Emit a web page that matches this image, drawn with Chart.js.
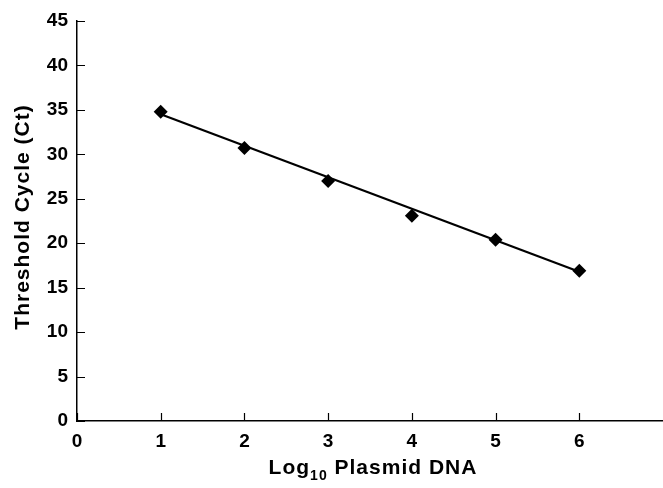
<!DOCTYPE html>
<html>
<head>
<meta charset="utf-8">
<script src="https://cdn.jsdelivr.net/npm/chart.js@4.4.1/dist/chart.umd.min.js"></script>
<style>
  html, body { margin: 0; padding: 0; background: #fff; }
  #wrap { width: 663px; height: 488px; }
</style>
</head>
<body>
<div id="wrap"><canvas id="chartCanvas"></canvas></div>
<script>
// values
const logDNA = [1, 2, 3, 4, 5, 6];
const ctValues = [34.8, 30.7, 27.0, 23.1, 20.4, 16.9];
const fitX = [1, 6];
const fitY = [34.5, 16.8];
const yTicks = [0, 5, 10, 15, 20, 25, 30, 35, 40, 45];
const xTicks = [0, 1, 2, 3, 4, 5, 6];

const FONT = "'Liberation Sans', Arial, sans-serif";

// inward tick marks + axis titles (x title has a subscript)
const decorPlugin = {
  id: 'decor',
  afterDraw(chart) {
    const ctx = chart.ctx;
    const xs = chart.scales.x, ys = chart.scales.y;
    const area = chart.chartArea;
    ctx.save();
    ctx.strokeStyle = '#000';
    ctx.lineWidth = 1.2;
    ctx.beginPath();
    yTicks.forEach(v => {
      const py = Math.round(ys.getPixelForValue(v)) + 0.5;
      ctx.moveTo(area.left, py);
      ctx.lineTo(area.left + 8, py);
    });
    xTicks.forEach(v => {
      const px = Math.round(xs.getPixelForValue(v)) + 0.5;
      ctx.moveTo(px, area.bottom);
      ctx.lineTo(px, area.bottom - 8);
    });
    ctx.stroke();

    ctx.fillStyle = '#000';
    ctx.letterSpacing = '1px';

    // y title
    ctx.font = 'bold 21px ' + FONT;
    ctx.textAlign = 'center';
    ctx.textBaseline = 'middle';
    ctx.translate(23, 217);
    ctx.rotate(-Math.PI / 2);
    ctx.fillText('Threshold Cycle (Ct)', 0, 0);
    ctx.setTransform(1, 0, 0, 1, 0, 0);

    // x title: Log10 Plasmid DNA
    const big = 'bold 21px ' + FONT, small = 'bold 14px ' + FONT;
    ctx.textAlign = 'left';
    ctx.textBaseline = 'alphabetic';
    ctx.font = big;
    const w1 = ctx.measureText('Log').width;
    const w3 = ctx.measureText(' Plasmid DNA').width;
    ctx.font = small;
    const w2 = ctx.measureText('10').width;
    const total = w1 + w2 + w3;
    let x = 373 - total / 2;
    const base = 474;
    ctx.font = big;
    ctx.fillText('Log', x, base);
    x += w1;
    ctx.font = small;
    ctx.fillText('10', x, base + 6);
    x += w2;
    ctx.font = big;
    ctx.fillText(' Plasmid DNA', x, base);
    ctx.restore();
  }
};

new Chart(document.getElementById('chartCanvas').getContext('2d'), {
  type: 'scatter',
  data: {
    datasets: [
      {
        label: 'Fit',
        type: 'line',
        data: fitX.map((x, i) => ({ x: x, y: fitY[i] })),
        borderColor: '#000',
        borderWidth: 2.2,
        pointRadius: 0,
        fill: false,
        order: 2
      },
      {
        label: 'Ct',
        data: logDNA.map((x, i) => ({ x: x, y: ctValues[i] })),
        pointStyle: 'rectRot',
        pointRadius: 7,
        backgroundColor: '#000',
        borderColor: '#000',
        borderWidth: 0,
        showLine: false,
        order: 1
      }
    ]
  },
  options: {
    responsive: true,
    maintainAspectRatio: false,
    animation: false,
    layout: { autoPadding: false, padding: { top: 21, right: 0, left: 0, bottom: 0 } },
    plugins: {
      legend: { display: false },
      tooltip: { enabled: false }
    },
    scales: {
      x: {
        type: 'linear',
        min: 0,
        max: 7,
        afterFit: s => { s.height = 67; s.paddingLeft = 0; s.paddingRight = 0; },
        grid: { display: false, drawTicks: false },
        border: { display: true, color: '#000', width: 1.5 },
        ticks: {
          stepSize: 1,
          padding: 9,
          color: '#000',
          font: { family: FONT, size: 19, weight: 'bold' },
          callback: v => (v === 7 ? '' : v)
        }
      },
      y: {
        min: 0,
        max: 45,
        afterFit: s => { s.width = 77; s.paddingTop = 0; s.paddingBottom = 0; },
        grid: { display: false, drawTicks: false },
        border: { display: true, color: '#000', width: 1.5 },
        ticks: {
          stepSize: 5,
          padding: 9,
          color: '#000',
          font: { family: FONT, size: 19, weight: 'bold' }
        }
      }
    }
  },
  plugins: [decorPlugin]
});
</script>
</body>
</html>
